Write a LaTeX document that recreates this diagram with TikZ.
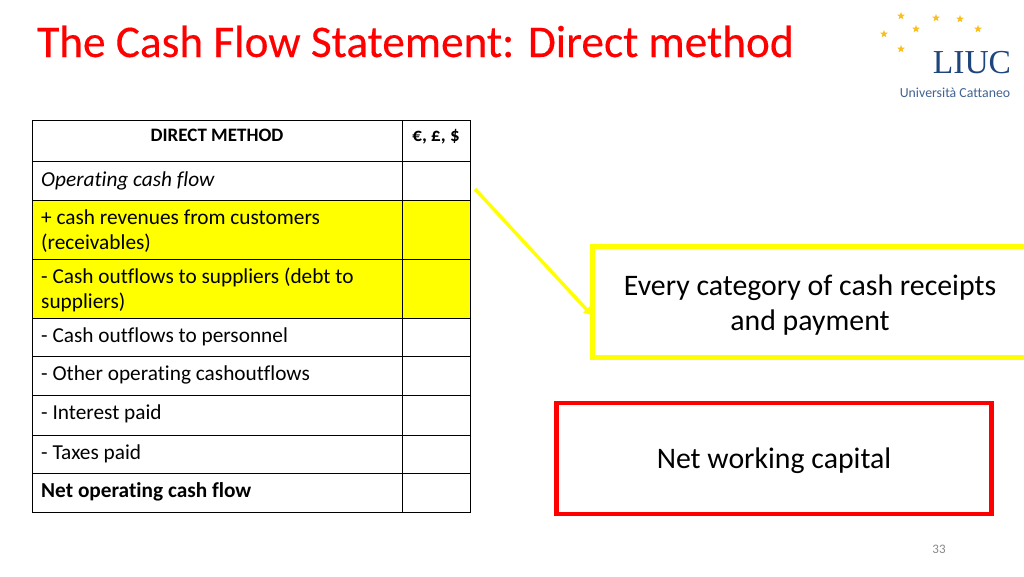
\documentclass[tikz,border=0pt]{standalone}
\usepackage{fontspec}
\setmainfont[Ligatures=NoCommon]{Carlito}
\newfontfamily\titlefont[Ligatures=NoCommon,FakeBold=0.25]{Carlito}
\newfontfamily\liucfont{Liberation Serif}
\usetikzlibrary{shapes.geometric,arrows.meta}
\definecolor{liucblue}{RGB}{30,70,125}
\definecolor{staryellow}{RGB}{250,190,30}
\definecolor{pagenum}{RGB}{137,137,137}
\definecolor{hlyellow}{RGB}{255,255,0}
\definecolor{purered}{RGB}{255,0,0}
\tikzset{
  x=1pt,y=-1pt,
  rowtext/.style={anchor=base west,font=\fontsize{21.3}{25}\selectfont,inner sep=0pt,align=left},
  star5/.style={star,star points=5,star point ratio=2.4,fill=staryellow,draw=none,inner sep=0pt,minimum size=8pt},
  calloutbox/.style={draw,line width=4.5pt,fill=white,inner sep=0pt,outer sep=0pt,anchor=north west},
  callouttext/.style={font=\fontsize{29.8}{35.5}\selectfont,align=center,inner sep=0pt}
}
\begin{document}
\begin{tikzpicture}
\useasboundingbox (0,0) rectangle (1024,576);
\fill[white] (0,0) rectangle (1024,576);
% title
\node[anchor=base west,inner sep=0pt,text=purered,font=\fontsize{45.3}{50}\selectfont\titlefont] (title) at (37,57) {The Cash Flow Statement: Direct method};
% table fills
\fill[hlyellow] (32,200) rectangle (470,318);
% table rows
\foreach \ya/\yb/\n in {120/161/a,161/200/b,200/259/c,259/318/d,318/356/e,356/395/f,395/435/g,435/473/h,473/512/i}{
  \draw[line width=0.8pt] (32,\ya) rectangle (402,\yb);
  \draw[line width=0.8pt] (402,\ya) rectangle (470,\yb);
}
\node[anchor=base,inner sep=0pt,font=\fontsize{19}{22}\selectfont\bfseries] (h1) at (217,141) {DIRECT METHOD};
\node[anchor=base,inner sep=0pt,font=\fontsize{19}{22}\selectfont\bfseries] (h2) at (436,141) {€, £, \$};
\node[rowtext] (r1) at (41,186) {\itshape Operating cash flow};
\node[rowtext,anchor=base west] (r2) at (41,224) {+ cash revenues from customers};
\node[rowtext] (r2b) at (41,249) {(receivables)};
\node[rowtext] (r3) at (41,283) {- Cash outflows to suppliers (debt to};
\node[rowtext] (r3b) at (41,308) {suppliers)};
\node[rowtext] (r4) at (41,342) {- Cash outflows to personnel};
\node[rowtext] (r5) at (41,380) {- Other operating cashoutflows};
\node[rowtext] (r6) at (41,419) {- Interest paid};
\node[rowtext] (r7) at (41,459) {- Taxes paid};
\node[rowtext] (r8) at (41,497) {\bfseries Net operating cash flow};
% yellow callout
\node[calloutbox,draw=hlyellow,minimum width=440pt,minimum height=111pt] (yb) at (592.5,246.5) {};
\coordinate (from) at (475,189);
\draw[hlyellow,line width=3.4pt,-{Latex[length=9pt,width=10pt]}] (from) -- (yb.west |- 0,316);
\node[callouttext] (yt) at (810,305) {Every category of cash receipts\\and payment};
% red box
\node[calloutbox,draw=purered,minimum width=435pt,minimum height=111pt] (rb) at (556.5,403) {};
\node[callouttext] (rt) at (774,460.5) {Net working capital};
% page number
\node[anchor=base,inner sep=0pt,text=pagenum,font=\fontsize{13}{16}\selectfont] (pg) at (939,553.5) {33};
% logo
\foreach \sx/\sy/\n in {901/16/1,936/18/2,960/19/3,978/29/4,916/29/5,884/34/6,901/49/7}{
  \node[star5] (s\n) at (\sx,\sy) {};
}
\node[anchor=base,inner sep=0pt,text=liucblue,font=\fontsize{33.5}{40}\selectfont\liucfont] (liuc) at (972,73.5) {LIUC};
\node[anchor=base,inner sep=0pt,text=liucblue!85,font=\fontsize{13.8}{16}\selectfont] (uc) at (955,97) {Università Cattaneo};
\end{tikzpicture}
\end{document}
